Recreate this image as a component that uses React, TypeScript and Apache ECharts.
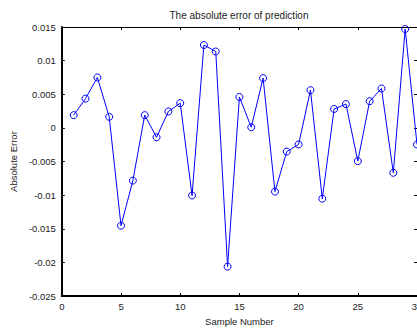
import React, { useEffect, useRef } from "react";
import * as echarts from "echarts";

const sampleNumbers = [1, 2, 3, 4, 5, 6, 7, 8, 9, 10, 11, 12, 13, 14, 15, 16, 17, 18, 19, 20, 21, 22, 23, 24, 25, 26, 27, 28, 29, 30];
const absoluteErrors = [
  0.0019, 0.00435, 0.0075, 0.00165, -0.01454, -0.00783, 0.0019, -0.00139, 0.00244, 0.00368,
  -0.01004, 0.01232, 0.01136, -0.02062, 0.0046, 0.0001, 0.0074, -0.00946, -0.00352, -0.00246,
  0.00561, -0.01052, 0.00281, 0.00354, -0.00493, 0.00397, 0.00586, -0.00667, 0.0147, -0.00246,
];
const titleText = "The absolute error of prediction";
const xName = "Sample Number";
const yName = "Absolute Error";

const FONT = "'Liberation Sans', Arial, sans-serif";

export default function App() {
  const ref = useRef<HTMLDivElement>(null);
  useEffect(() => {
    if (!ref.current) return;
    const chart = echarts.init(ref.current, undefined, { renderer: "svg" });
    const fmtY = (v: number) => String(+v.toFixed(3));
    const tickInside = { show: true, inside: true, length: 3, lineStyle: { color: "#000", width: 1 } };
    chart.setOption({
      animation: false,
      backgroundColor: "#fff",
      title: {
        text: titleText,
        left: 239,
        top: 10,
        padding: 0,
        textAlign: "center",
        textStyle: { fontFamily: FONT, fontSize: 10, fontWeight: "normal", color: "#222" },
      },
      grid: { left: 61, right: 14, top: 27, bottom: 27.5 },
      xAxis: [
        {
          type: "value",
          min: 0,
          max: 30,
          interval: 5,
          position: "bottom",
          name: xName,
          nameLocation: "middle",
          nameGap: 19,
          nameTextStyle: { fontFamily: FONT, fontSize: 9.5, color: "#222" },
          axisLine: { show: true, onZero: false, lineStyle: { color: "#000", width: 2 } },
          axisTick: tickInside,
          axisLabel: {
            fontFamily: FONT,
            fontSize: 9.5,
            color: "#222",
            margin: 5,
            showMinLabel: true,
            showMaxLabel: true,
            hideOverlap: false,
          },
          splitLine: { show: false },
        },
        {
          type: "value",
          min: 0,
          max: 30,
          interval: 5,
          position: "top",
          axisLine: { show: true, onZero: false, lineStyle: { color: "#000", width: 1 } },
          axisTick: tickInside,
          axisLabel: { show: false },
          splitLine: { show: false },
        },
      ],
      yAxis: [
        {
          type: "value",
          min: -0.025,
          max: 0.015,
          interval: 0.005,
          position: "left",
          name: yName,
          nameLocation: "middle",
          nameGap: 38,
          nameTextStyle: { fontFamily: FONT, fontSize: 9.5, color: "#222" },
          axisLine: { show: true, onZero: false, lineStyle: { color: "#000", width: 2 } },
          axisTick: tickInside,
          axisLabel: { fontFamily: FONT, fontSize: 9.5, color: "#222", margin: 6, formatter: fmtY },
          splitLine: { show: false },
        },
        {
          type: "value",
          min: -0.025,
          max: 0.015,
          interval: 0.005,
          position: "right",
          axisLine: { show: true, onZero: false, lineStyle: { color: "#999", width: 1 } },
          axisTick: tickInside,
          axisLabel: { show: false },
          splitLine: { show: false },
        },
      ],
      series: [
        {
          type: "line",
          data: sampleNumbers.map((x, i) => [x, absoluteErrors[i]]),
          symbol: "circle",
          symbolSize: 7,
          showSymbol: true,
          lineStyle: { color: "#0000ff", width: 1 },
          itemStyle: { color: "transparent", borderColor: "#0000ff", borderWidth: 1 },
          clip: false,
        },
      ],
    });
    return () => chart.dispose();
  }, []);
  return (
    <div
      ref={ref}
      style={{ position: "fixed", left: 0, top: 0, width: 431, height: 331, background: "#fff" }}
    />
  );
}
